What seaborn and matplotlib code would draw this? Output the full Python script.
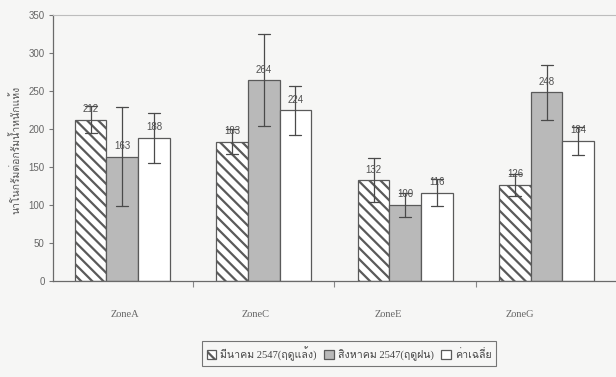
import matplotlib
matplotlib.use("Agg")
import matplotlib.pyplot as plt
import numpy as np
import pandas as pd
import seaborn as sns
from matplotlib import font_manager
from fontTools.ttLib import TTFont

# ---- data -------------------------------------------------------------
zones = ["ZoneA", "ZoneC", "ZoneE", "ZoneG"]
series = ["มีนาคม 2547(ฤดูแล้ง)", "สิงหาคม 2547(ฤดูฝน)", "ค่าเฉลี่ย"]
dry_vals = [212, 183, 132, 126]
wet_vals = [163, 264, 100, 248]
avg_vals = [188, 224, 116, 184]
dry_err = [18, 16, 29, 14]
wet_err = [65, 60, 16, 36]
avg_err = [33, 32, 18, 18]
y_ticks = [0, 50, 100, 150, 200, 250, 300, 350]
y_label = "นาโนกรัมต่อกรัมน้ำหนักแห้ง"

PREFERRED_THAI = ["Laksaman", "Norasi", "Kinnari", "Garuda", "Loma",
                  "Umpush", "Waree", "Sawasdee", "Purisa"]


def thai_families():
    names = []
    for path in font_manager.findSystemFonts():
        try:
            cmap = TTFont(path, fontNumber=0, lazy=True).getBestCmap()
        except Exception:
            continue
        if cmap and 0x0E01 in cmap and 0x0E21 in cmap:
            name = font_manager.FontProperties(fname=path).get_name()
            if name not in names:
                names.append(name)
    ranked = [n for n in PREFERRED_THAI if n in names]
    rest = [n for n in names if n not in ranked and "Mono" not in n
            and "Typo" not in n]
    mono = [n for n in names if n not in ranked and n not in rest]
    return ranked + rest + mono


sns.set_style("white")
thai = thai_families()
serif_mix = ["Liberation Serif"] + thai + ["DejaVu Sans"]
plt.rcParams["font.family"] = ["Liberation Sans"] + thai + ["DejaVu Sans"]
plt.rcParams["hatch.linewidth"] = 1.6

# low / high ends of each interval; the mean of the pair is the bar height
rows = []
for s, vals, errs in zip(series, [dry_vals, wet_vals, avg_vals], [dry_err, wet_err, avg_err]):
    for z, v, e in zip(zones, vals, errs):
        rows.append({"zone": z, "series": s, "value": v - e})
        rows.append({"zone": z, "series": s, "value": v + e})
df = pd.DataFrame(rows)

bg = "#f6f6f5"
edge = "#5a5a5a"
fig = plt.figure(figsize=(6.16, 3.77), dpi=100, facecolor=bg)
ax = fig.add_axes([0.086, 0.2554, 0.914, 0.7056], facecolor=bg)

sns.barplot(data=df, x="zone", y="value", hue="series", order=zones,
            hue_order=series, estimator="mean", errorbar=("pi", 100),
            palette=["#ffffff", "#b9b9b9", "#ffffff"], width=0.67,
            edgecolor=edge, linewidth=0.9, capsize=0.25,
            err_kws={"color": "#4a4a4a", "linewidth": 0.9},
            ax=ax, legend=True)

hatches = ["\\\\\\", "", ""]
for cont, h in zip(ax.containers, hatches):
    for bar in cont:
        bar.set_hatch(h)
    ax.bar_label(cont, fmt="%.0f", padding=4, fontsize=7, color="#505050",
                 family=["Liberation Sans", "DejaVu Sans"])

ax.set_ylim(0, 350)
ax.set_xlim(-0.49, 3.49)
ax.set_yticks(y_ticks)
ax.set_yticklabels([str(t) for t in y_ticks], fontsize=7, color="#666666",
                   family=["Liberation Sans", "DejaVu Sans"])
ax.tick_params(axis="y", length=3, width=0.8, color="#777777", pad=3, left=True)

# category labels under the groups, boundary ticks between groups
ax.set_xticks([0.02, 0.94, 1.88, 2.81])
ax.set_xticklabels(zones, fontsize=7.5, color="#666666",
                   family=["Liberation Serif", "DejaVu Serif"])
ax.tick_params(axis="x", length=0, pad=21)
ax.set_xticks([0.5, 1.5, 2.5], minor=True)
ax.tick_params(axis="x", which="minor", length=4, width=0.8, color="#888888",
               bottom=True)
ax.set_xlabel("")
ax.set_ylabel("")

for side in ["left", "bottom"]:
    ax.spines[side].set_color("#6a6a6a")
    ax.spines[side].set_linewidth(0.9)
ax.spines["top"].set_color("#bdbdbd")
ax.spines["top"].set_linestyle((0, (1, 1)))
ax.spines["top"].set_linewidth(0.8)
ax.spines["right"].set_visible(False)

fig.text(16 / 616, 1 - 150 / 377, y_label, rotation=90, ha="center",
         va="center", fontsize=7.5, color="#555555", family=serif_mix)

handles, labels = ax.get_legend_handles_labels()
ax.get_legend().remove()
for hd, h in zip(handles, hatches):
    hd.set_hatch(h)
    hd.set_edgecolor(edge)
leg = fig.legend(handles, labels, loc="center",
                 bbox_to_anchor=(349 / 616, 1 - 353.5 / 377), ncol=3,
                 prop={"family": serif_mix, "size": 7.6},
                 frameon=True, fancybox=False,
                 handlelength=0.9, handleheight=0.9, handletextpad=0.4,
                 columnspacing=0.7, borderpad=0.45)
leg.get_frame().set_edgecolor("#555555")
leg.get_frame().set_linewidth(0.8)
leg.get_frame().set_facecolor(bg)
for t in leg.get_texts():
    t.set_color("#444444")

fig.savefig("out.png", dpi=100, facecolor=bg)
